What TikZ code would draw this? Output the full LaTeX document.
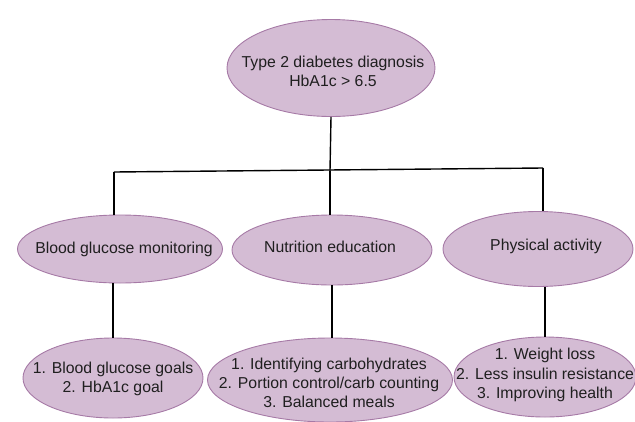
\documentclass[tikz,border=0pt]{standalone}
\usepackage{fontspec}
\setmainfont{Liberation Sans}
\usetikzlibrary{shapes.geometric}
\definecolor{fillcol}{RGB}{212,188,212}
\definecolor{bordercol}{RGB}{166,122,166}
\begin{document}
\begin{tikzpicture}[x=1pt,y=-1pt,
  bubble/.style={ellipse, draw=bordercol, fill=fillcol, line width=0.9pt, inner sep=0pt},
  txt/.style={align=center, inner sep=0pt, font=\fontsize{15.8}{19.2}\selectfont, text=black!88},
  conn/.style={draw=black, line width=1.4pt}]
\useasboundingbox (0,0) rectangle (635,421);
\node[bubble, minimum width=208pt, minimum height=97pt] (top) at (331,68) {};
\node[bubble, minimum width=205pt, minimum height=68pt] (b1) at (120,249) {};
\node[bubble, minimum width=200pt, minimum height=70pt] (b2) at (332,250) {};
\node[bubble, minimum width=190pt, minimum height=75pt] (b3) at (538,249) {};
\node[bubble, minimum width=180pt, minimum height=80pt] (c1) at (113,378) {};
\node[bubble, minimum width=245pt, minimum height=84pt] (c2) at (330,380) {};
\node[bubble, minimum width=182pt, minimum height=80pt] (c3) at (545,377) {};
\node[txt] (topt) at (333,71) {Type 2 diabetes diagnosis\\HbA1c > 6.5};
\node[txt] (b1t) at (124,249) {Blood glucose monitoring};
\node[txt] (b2t) at (330,247) {Nutrition education};
\node[txt] (b3t) at (546,246) {Physical activity};
\node[txt] (c1t) at (113,379) {1. Blood glucose goals\\2. HbA1c goal};
\node[txt] (c2t) at (329,383) {1. Identifying carbohydrates\\2. Portion control/carb counting\\3. Balanced meals};
\node[txt] (c3t) at (545,375) {1. Weight loss\\2. Less insulin resistance\\3. Improving health};
\coordinate (j) at (330,171);
\coordinate (jl) at (114,172);
\coordinate (jr) at (543,168);
\draw[conn] (top.south) -- (j);
\draw[conn] (jl) -- (jr);
\draw[conn] (j) -- (j |- b2.north);
\draw[conn] (jl) -- (jl |- b1.north);
\draw[conn] (jr) -- (jr |- b3.north);
\draw[conn] (c1.north |- b1.south) -- (c1.north);
\draw[conn] (b2.south) -- (b2.south |- c2.north);
\draw[conn] (c3.north |- b3.south) -- (c3.north);
\end{tikzpicture}
\end{document}
